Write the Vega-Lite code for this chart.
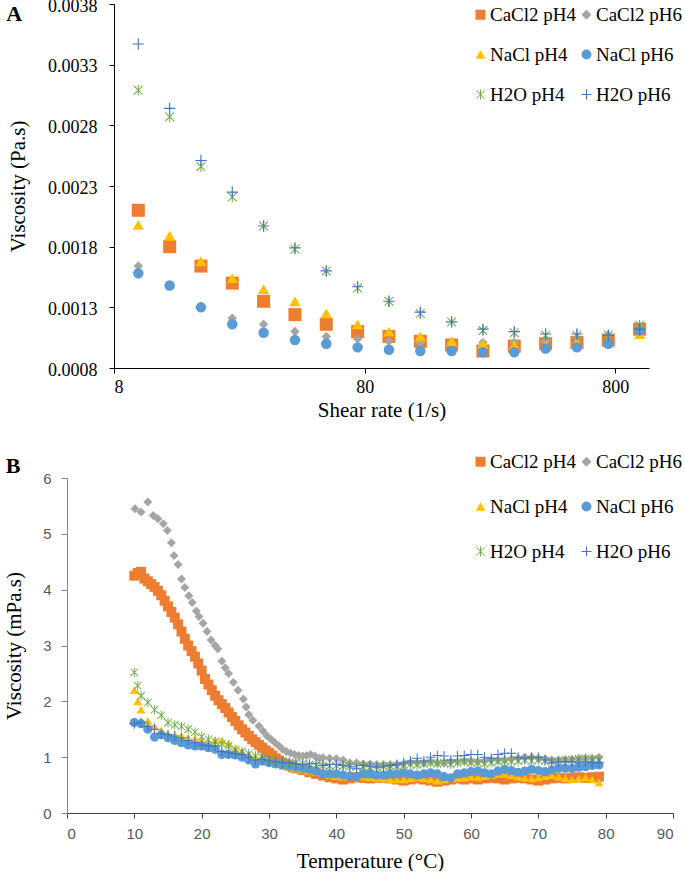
{
"$schema": "https://vega.github.io/schema/vega-lite/v6.json",
"padding": {"left": 3, "top": -3, "right": 0, "bottom": 0},
"config": {"view": {"stroke": null}, "axis": {"grid": false}},
"datasets": {
"a": [
{"s":"CaCl2 pH4","x":10,"v":0.00210},{"s":"CaCl2 pH4","x":13.34,"v":0.00180},{"s":"CaCl2 pH4","x":17.78,"v":0.00164},{"s":"CaCl2 pH4","x":23.71,"v":0.00150},{"s":"CaCl2 pH4","x":31.62,"v":0.00135},{"s":"CaCl2 pH4","x":42.17,"v":0.00124},{"s":"CaCl2 pH4","x":56.23,"v":0.00116},{"s":"CaCl2 pH4","x":74.99,"v":0.00110},{"s":"CaCl2 pH4","x":100,"v":0.00106},{"s":"CaCl2 pH4","x":133.4,"v":0.00102},{"s":"CaCl2 pH4","x":177.8,"v":0.00099},{"s":"CaCl2 pH4","x":237.1,"v":0.00094},{"s":"CaCl2 pH4","x":316.2,"v":0.00098},{"s":"CaCl2 pH4","x":421.7,"v":0.00100},{"s":"CaCl2 pH4","x":562.3,"v":0.00101},{"s":"CaCl2 pH4","x":749.9,"v":0.00103},{"s":"CaCl2 pH4","x":1000,"v":0.00112},
{"s":"CaCl2 pH6","x":10,"v":0.00164},{"s":"CaCl2 pH6","x":13.34,"v":0.00148},{"s":"CaCl2 pH6","x":17.78,"v":0.00131},{"s":"CaCl2 pH6","x":23.71,"v":0.00121},{"s":"CaCl2 pH6","x":31.62,"v":0.00116},{"s":"CaCl2 pH6","x":42.17,"v":0.00110},{"s":"CaCl2 pH6","x":56.23,"v":0.00106},{"s":"CaCl2 pH6","x":74.99,"v":0.00104},{"s":"CaCl2 pH6","x":100,"v":0.00102},{"s":"CaCl2 pH6","x":133.4,"v":0.00101},{"s":"CaCl2 pH6","x":177.8,"v":0.00101},{"s":"CaCl2 pH6","x":237.1,"v":0.00101},{"s":"CaCl2 pH6","x":316.2,"v":0.00101},{"s":"CaCl2 pH6","x":421.7,"v":0.00102},{"s":"CaCl2 pH6","x":562.3,"v":0.00105},{"s":"CaCl2 pH6","x":749.9,"v":0.00107},{"s":"CaCl2 pH6","x":1000,"v":0.00114},
{"s":"NaCl pH4","x":10,"v":0.00198},{"s":"NaCl pH4","x":13.34,"v":0.00189},{"s":"NaCl pH4","x":17.78,"v":0.00168},{"s":"NaCl pH4","x":23.71,"v":0.00154},{"s":"NaCl pH4","x":31.62,"v":0.00145},{"s":"NaCl pH4","x":42.17,"v":0.00135},{"s":"NaCl pH4","x":56.23,"v":0.00125},{"s":"NaCl pH4","x":74.99,"v":0.00116},{"s":"NaCl pH4","x":100,"v":0.00110},{"s":"NaCl pH4","x":133.4,"v":0.00106},{"s":"NaCl pH4","x":177.8,"v":0.00102},{"s":"NaCl pH4","x":237.1,"v":0.00100},{"s":"NaCl pH4","x":316.2,"v":0.00099},{"s":"NaCl pH4","x":421.7,"v":0.00099},{"s":"NaCl pH4","x":562.3,"v":0.00101},{"s":"NaCl pH4","x":749.9,"v":0.00101},{"s":"NaCl pH4","x":1000,"v":0.00108},
{"s":"NaCl pH6","x":10,"v":0.00158},{"s":"NaCl pH6","x":13.34,"v":0.00148},{"s":"NaCl pH6","x":17.78,"v":0.00130},{"s":"NaCl pH6","x":23.71,"v":0.00116},{"s":"NaCl pH6","x":31.62,"v":0.00109},{"s":"NaCl pH6","x":42.17,"v":0.00103},{"s":"NaCl pH6","x":56.23,"v":0.00100},{"s":"NaCl pH6","x":74.99,"v":0.00097},{"s":"NaCl pH6","x":100,"v":0.00095},{"s":"NaCl pH6","x":133.4,"v":0.00094},{"s":"NaCl pH6","x":177.8,"v":0.00094},{"s":"NaCl pH6","x":237.1,"v":0.00093},{"s":"NaCl pH6","x":316.2,"v":0.00093},{"s":"NaCl pH6","x":421.7,"v":0.00096},{"s":"NaCl pH6","x":562.3,"v":0.00097},{"s":"NaCl pH6","x":749.9,"v":0.00100},{"s":"NaCl pH6","x":1000,"v":0.00111},
{"s":"H2O pH4","x":10,"v":0.00309},{"s":"H2O pH4","x":13.34,"v":0.00287},{"s":"H2O pH4","x":17.78,"v":0.00246},{"s":"H2O pH4","x":23.71,"v":0.00221},{"s":"H2O pH4","x":31.62,"v":0.00197},{"s":"H2O pH4","x":42.17,"v":0.00178},{"s":"H2O pH4","x":56.23,"v":0.00160},{"s":"H2O pH4","x":74.99,"v":0.00146},{"s":"H2O pH4","x":100,"v":0.00135},{"s":"H2O pH4","x":133.4,"v":0.00125},{"s":"H2O pH4","x":177.8,"v":0.00118},{"s":"H2O pH4","x":237.1,"v":0.00111},{"s":"H2O pH4","x":316.2,"v":0.00109},{"s":"H2O pH4","x":421.7,"v":0.00107},{"s":"H2O pH4","x":562.3,"v":0.00107},{"s":"H2O pH4","x":749.9,"v":0.00107},{"s":"H2O pH4","x":1000,"v":0.00115},
{"s":"H2O pH6","x":10,"v":0.00347},{"s":"H2O pH6","x":13.34,"v":0.00294},{"s":"H2O pH6","x":17.78,"v":0.00251},{"s":"H2O pH6","x":23.71,"v":0.00225},{"s":"H2O pH6","x":31.62,"v":0.00197},{"s":"H2O pH6","x":42.17,"v":0.00179},{"s":"H2O pH6","x":56.23,"v":0.00160},{"s":"H2O pH6","x":74.99,"v":0.00147},{"s":"H2O pH6","x":100,"v":0.00135},{"s":"H2O pH6","x":133.4,"v":0.00126},{"s":"H2O pH6","x":177.8,"v":0.00118},{"s":"H2O pH6","x":237.1,"v":0.00112},{"s":"H2O pH6","x":316.2,"v":0.00110},{"s":"H2O pH6","x":421.7,"v":0.00108},{"s":"H2O pH6","x":562.3,"v":0.00108},{"s":"H2O pH6","x":749.9,"v":0.00107},{"s":"H2O pH6","x":1000,"v":0.00112}
],
"b": [
{"s":"CaCl2 pH4","t":10,"v":4.25},{"s":"CaCl2 pH4","t":10.5,"v":4.3},{"s":"CaCl2 pH4","t":11,"v":4.32},{"s":"CaCl2 pH4","t":11.5,"v":4.2},{"s":"CaCl2 pH4","t":12,"v":4.15},{"s":"CaCl2 pH4","t":12.5,"v":4.1},{"s":"CaCl2 pH4","t":13,"v":4.05},{"s":"CaCl2 pH4","t":13.5,"v":3.98},{"s":"CaCl2 pH4","t":14,"v":3.9},{"s":"CaCl2 pH4","t":14.5,"v":3.8},{"s":"CaCl2 pH4","t":15,"v":3.7},{"s":"CaCl2 pH4","t":15.5,"v":3.6},{"s":"CaCl2 pH4","t":16,"v":3.5},{"s":"CaCl2 pH4","t":16.5,"v":3.38},{"s":"CaCl2 pH4","t":17,"v":3.25},{"s":"CaCl2 pH4","t":17.5,"v":3.12},{"s":"CaCl2 pH4","t":18,"v":3.0},{"s":"CaCl2 pH4","t":18.5,"v":2.9},{"s":"CaCl2 pH4","t":19,"v":2.8},{"s":"CaCl2 pH4","t":19.5,"v":2.68},{"s":"CaCl2 pH4","t":20,"v":2.55},{"s":"CaCl2 pH4","t":20.5,"v":2.4},{"s":"CaCl2 pH4","t":21,"v":2.3},{"s":"CaCl2 pH4","t":21.5,"v":2.2},{"s":"CaCl2 pH4","t":22,"v":2.1},{"s":"CaCl2 pH4","t":22.5,"v":2.02},{"s":"CaCl2 pH4","t":23,"v":1.95},{"s":"CaCl2 pH4","t":23.5,"v":1.88},{"s":"CaCl2 pH4","t":24,"v":1.8},{"s":"CaCl2 pH4","t":24.5,"v":1.72},{"s":"CaCl2 pH4","t":25,"v":1.65},{"s":"CaCl2 pH4","t":25.5,"v":1.57},{"s":"CaCl2 pH4","t":26,"v":1.5},{"s":"CaCl2 pH4","t":26.5,"v":1.44},{"s":"CaCl2 pH4","t":27,"v":1.38},{"s":"CaCl2 pH4","t":27.5,"v":1.32},{"s":"CaCl2 pH4","t":28,"v":1.27},{"s":"CaCl2 pH4","t":28.5,"v":1.22},{"s":"CaCl2 pH4","t":29,"v":1.17},{"s":"CaCl2 pH4","t":29.5,"v":1.12},{"s":"CaCl2 pH4","t":30,"v":1.08},{"s":"CaCl2 pH4","t":30.5,"v":1.03},{"s":"CaCl2 pH4","t":31,"v":0.98},{"s":"CaCl2 pH4","t":31.5,"v":0.94},{"s":"CaCl2 pH4","t":32,"v":0.9},{"s":"CaCl2 pH4","t":32.5,"v":0.87},{"s":"CaCl2 pH4","t":33,"v":0.85},{"s":"CaCl2 pH4","t":33.5,"v":0.82},{"s":"CaCl2 pH4","t":34,"v":0.8},{"s":"CaCl2 pH4","t":35,"v":0.77},{"s":"CaCl2 pH4","t":36,"v":0.73},{"s":"CaCl2 pH4","t":37,"v":0.7},{"s":"CaCl2 pH4","t":38,"v":0.67},{"s":"CaCl2 pH4","t":39,"v":0.64},{"s":"CaCl2 pH4","t":40,"v":0.62},{"s":"CaCl2 pH4","t":41,"v":0.6},{"s":"CaCl2 pH4","t":42,"v":0.62},{"s":"CaCl2 pH4","t":43,"v":0.64},{"s":"CaCl2 pH4","t":44,"v":0.63},{"s":"CaCl2 pH4","t":45,"v":0.62},{"s":"CaCl2 pH4","t":46,"v":0.63},{"s":"CaCl2 pH4","t":47,"v":0.63},{"s":"CaCl2 pH4","t":48,"v":0.62},{"s":"CaCl2 pH4","t":49,"v":0.6},{"s":"CaCl2 pH4","t":50,"v":0.58},{"s":"CaCl2 pH4","t":51,"v":0.6},{"s":"CaCl2 pH4","t":52,"v":0.62},{"s":"CaCl2 pH4","t":53,"v":0.6},{"s":"CaCl2 pH4","t":54,"v":0.58},{"s":"CaCl2 pH4","t":55,"v":0.56},{"s":"CaCl2 pH4","t":56,"v":0.58},{"s":"CaCl2 pH4","t":57,"v":0.6},{"s":"CaCl2 pH4","t":58,"v":0.62},{"s":"CaCl2 pH4","t":59,"v":0.6},{"s":"CaCl2 pH4","t":60,"v":0.62},{"s":"CaCl2 pH4","t":61,"v":0.6},{"s":"CaCl2 pH4","t":62,"v":0.62},{"s":"CaCl2 pH4","t":63,"v":0.63},{"s":"CaCl2 pH4","t":64,"v":0.62},{"s":"CaCl2 pH4","t":65,"v":0.6},{"s":"CaCl2 pH4","t":66,"v":0.62},{"s":"CaCl2 pH4","t":67,"v":0.63},{"s":"CaCl2 pH4","t":68,"v":0.62},{"s":"CaCl2 pH4","t":69,"v":0.6},{"s":"CaCl2 pH4","t":70,"v":0.58},{"s":"CaCl2 pH4","t":71,"v":0.6},{"s":"CaCl2 pH4","t":72,"v":0.62},{"s":"CaCl2 pH4","t":73,"v":0.63},{"s":"CaCl2 pH4","t":74,"v":0.62},{"s":"CaCl2 pH4","t":75,"v":0.63},{"s":"CaCl2 pH4","t":76,"v":0.64},{"s":"CaCl2 pH4","t":77,"v":0.63},{"s":"CaCl2 pH4","t":78,"v":0.64},{"s":"CaCl2 pH4","t":79,"v":0.65},
{"s":"CaCl2 pH6","t":10.1,"v":5.45},{"s":"CaCl2 pH6","t":11,"v":5.39},{"s":"CaCl2 pH6","t":12,"v":5.57},{"s":"CaCl2 pH6","t":12.8,"v":5.33},{"s":"CaCl2 pH6","t":13.5,"v":5.27},{"s":"CaCl2 pH6","t":14.3,"v":5.18},{"s":"CaCl2 pH6","t":14.9,"v":5.06},{"s":"CaCl2 pH6","t":15.5,"v":4.84},{"s":"CaCl2 pH6","t":15.9,"v":4.61},{"s":"CaCl2 pH6","t":16.5,"v":4.45},{"s":"CaCl2 pH6","t":17,"v":4.19},{"s":"CaCl2 pH6","t":17.5,"v":4.04},{"s":"CaCl2 pH6","t":18.1,"v":3.89},{"s":"CaCl2 pH6","t":18.6,"v":3.77},{"s":"CaCl2 pH6","t":19.2,"v":3.62},{"s":"CaCl2 pH6","t":19.6,"v":3.52},{"s":"CaCl2 pH6","t":20.2,"v":3.4},{"s":"CaCl2 pH6","t":20.8,"v":3.25},{"s":"CaCl2 pH6","t":21.4,"v":3.1},{"s":"CaCl2 pH6","t":22,"v":3.0},{"s":"CaCl2 pH6","t":22.4,"v":2.94},{"s":"CaCl2 pH6","t":23,"v":2.72},{"s":"CaCl2 pH6","t":23.5,"v":2.6},{"s":"CaCl2 pH6","t":24,"v":2.5},{"s":"CaCl2 pH6","t":24.7,"v":2.34},{"s":"CaCl2 pH6","t":25.4,"v":2.2},{"s":"CaCl2 pH6","t":26.2,"v":2.04},{"s":"CaCl2 pH6","t":26.6,"v":1.9},{"s":"CaCl2 pH6","t":27,"v":1.76},{"s":"CaCl2 pH6","t":27.6,"v":1.66},{"s":"CaCl2 pH6","t":28.5,"v":1.56},{"s":"CaCl2 pH6","t":29.1,"v":1.47},{"s":"CaCl2 pH6","t":29.7,"v":1.38},{"s":"CaCl2 pH6","t":30.3,"v":1.32},{"s":"CaCl2 pH6","t":30.9,"v":1.26},{"s":"CaCl2 pH6","t":31.5,"v":1.2},{"s":"CaCl2 pH6","t":32,"v":1.14},{"s":"CaCl2 pH6","t":32.6,"v":1.1},{"s":"CaCl2 pH6","t":33.2,"v":1.07},{"s":"CaCl2 pH6","t":33.8,"v":1.05},{"s":"CaCl2 pH6","t":34.4,"v":1.03},{"s":"CaCl2 pH6","t":35,"v":1.02},{"s":"CaCl2 pH6","t":35.6,"v":1.03},{"s":"CaCl2 pH6","t":36.2,"v":1.05},{"s":"CaCl2 pH6","t":36.8,"v":1.02},{"s":"CaCl2 pH6","t":37.5,"v":0.98},{"s":"CaCl2 pH6","t":38,"v":0.99},{"s":"CaCl2 pH6","t":39,"v":0.98},{"s":"CaCl2 pH6","t":40,"v":0.97},{"s":"CaCl2 pH6","t":41,"v":0.95},{"s":"CaCl2 pH6","t":42,"v":0.9},{"s":"CaCl2 pH6","t":43,"v":0.9},{"s":"CaCl2 pH6","t":44,"v":0.88},{"s":"CaCl2 pH6","t":45,"v":0.88},{"s":"CaCl2 pH6","t":46,"v":0.87},{"s":"CaCl2 pH6","t":47,"v":0.87},{"s":"CaCl2 pH6","t":48,"v":0.86},{"s":"CaCl2 pH6","t":49,"v":0.87},{"s":"CaCl2 pH6","t":50,"v":0.88},{"s":"CaCl2 pH6","t":51,"v":0.9},{"s":"CaCl2 pH6","t":52,"v":0.9},{"s":"CaCl2 pH6","t":53,"v":0.9},{"s":"CaCl2 pH6","t":54,"v":0.92},{"s":"CaCl2 pH6","t":55,"v":0.9},{"s":"CaCl2 pH6","t":56,"v":0.9},{"s":"CaCl2 pH6","t":57,"v":0.92},{"s":"CaCl2 pH6","t":58,"v":0.92},{"s":"CaCl2 pH6","t":59,"v":0.93},{"s":"CaCl2 pH6","t":60,"v":0.93},{"s":"CaCl2 pH6","t":61,"v":0.92},{"s":"CaCl2 pH6","t":62,"v":0.93},{"s":"CaCl2 pH6","t":63,"v":0.95},{"s":"CaCl2 pH6","t":64,"v":0.95},{"s":"CaCl2 pH6","t":65,"v":0.95},{"s":"CaCl2 pH6","t":66,"v":0.97},{"s":"CaCl2 pH6","t":67,"v":0.98},{"s":"CaCl2 pH6","t":68,"v":1.0},{"s":"CaCl2 pH6","t":69,"v":1.0},{"s":"CaCl2 pH6","t":70,"v":0.98},{"s":"CaCl2 pH6","t":71,"v":0.97},{"s":"CaCl2 pH6","t":72,"v":0.95},{"s":"CaCl2 pH6","t":73,"v":0.95},{"s":"CaCl2 pH6","t":74,"v":0.95},{"s":"CaCl2 pH6","t":75,"v":0.96},{"s":"CaCl2 pH6","t":76,"v":0.97},{"s":"CaCl2 pH6","t":77,"v":0.98},{"s":"CaCl2 pH6","t":78,"v":0.98},{"s":"CaCl2 pH6","t":79,"v":1.0},
{"s":"NaCl pH4","t":10,"v":2.2},{"s":"NaCl pH4","t":10.5,"v":2.0},{"s":"NaCl pH4","t":11,"v":1.85},{"s":"NaCl pH4","t":12,"v":1.65},{"s":"NaCl pH4","t":13,"v":1.55},{"s":"NaCl pH4","t":14,"v":1.48},{"s":"NaCl pH4","t":15,"v":1.42},{"s":"NaCl pH4","t":16,"v":1.4},{"s":"NaCl pH4","t":17,"v":1.38},{"s":"NaCl pH4","t":18,"v":1.35},{"s":"NaCl pH4","t":19,"v":1.33},{"s":"NaCl pH4","t":20,"v":1.3},{"s":"NaCl pH4","t":21,"v":1.28},{"s":"NaCl pH4","t":22,"v":1.3},{"s":"NaCl pH4","t":23,"v":1.3},{"s":"NaCl pH4","t":24,"v":1.25},{"s":"NaCl pH4","t":25,"v":1.15},{"s":"NaCl pH4","t":26,"v":1.1},{"s":"NaCl pH4","t":27,"v":1.05},{"s":"NaCl pH4","t":28,"v":0.98},{"s":"NaCl pH4","t":29,"v":0.95},{"s":"NaCl pH4","t":30,"v":0.92},{"s":"NaCl pH4","t":31,"v":0.88},{"s":"NaCl pH4","t":32,"v":0.85},{"s":"NaCl pH4","t":33,"v":0.82},{"s":"NaCl pH4","t":34,"v":0.8},{"s":"NaCl pH4","t":35,"v":0.78},{"s":"NaCl pH4","t":36,"v":0.76},{"s":"NaCl pH4","t":37,"v":0.73},{"s":"NaCl pH4","t":38,"v":0.7},{"s":"NaCl pH4","t":39,"v":0.68},{"s":"NaCl pH4","t":40,"v":0.66},{"s":"NaCl pH4","t":41,"v":0.65},{"s":"NaCl pH4","t":42,"v":0.66},{"s":"NaCl pH4","t":43,"v":0.66},{"s":"NaCl pH4","t":44,"v":0.65},{"s":"NaCl pH4","t":45,"v":0.64},{"s":"NaCl pH4","t":46,"v":0.63},{"s":"NaCl pH4","t":47,"v":0.62},{"s":"NaCl pH4","t":48,"v":0.6},{"s":"NaCl pH4","t":49,"v":0.6},{"s":"NaCl pH4","t":50,"v":0.6},{"s":"NaCl pH4","t":51,"v":0.62},{"s":"NaCl pH4","t":52,"v":0.64},{"s":"NaCl pH4","t":53,"v":0.62},{"s":"NaCl pH4","t":54,"v":0.6},{"s":"NaCl pH4","t":55,"v":0.58},{"s":"NaCl pH4","t":56,"v":0.6},{"s":"NaCl pH4","t":57,"v":0.62},{"s":"NaCl pH4","t":58,"v":0.63},{"s":"NaCl pH4","t":59,"v":0.63},{"s":"NaCl pH4","t":60,"v":0.65},{"s":"NaCl pH4","t":61,"v":0.64},{"s":"NaCl pH4","t":62,"v":0.66},{"s":"NaCl pH4","t":63,"v":0.68},{"s":"NaCl pH4","t":64,"v":0.7},{"s":"NaCl pH4","t":65,"v":0.7},{"s":"NaCl pH4","t":66,"v":0.68},{"s":"NaCl pH4","t":67,"v":0.65},{"s":"NaCl pH4","t":68,"v":0.63},{"s":"NaCl pH4","t":69,"v":0.62},{"s":"NaCl pH4","t":70,"v":0.64},{"s":"NaCl pH4","t":71,"v":0.66},{"s":"NaCl pH4","t":72,"v":0.68},{"s":"NaCl pH4","t":73,"v":0.65},{"s":"NaCl pH4","t":74,"v":0.62},{"s":"NaCl pH4","t":75,"v":0.6},{"s":"NaCl pH4","t":76,"v":0.62},{"s":"NaCl pH4","t":77,"v":0.64},{"s":"NaCl pH4","t":78,"v":0.6},{"s":"NaCl pH4","t":79,"v":0.55},
{"s":"NaCl pH6","t":10,"v":1.62},{"s":"NaCl pH6","t":11,"v":1.6},{"s":"NaCl pH6","t":12,"v":1.5},{"s":"NaCl pH6","t":13,"v":1.36},{"s":"NaCl pH6","t":14,"v":1.4},{"s":"NaCl pH6","t":15,"v":1.35},{"s":"NaCl pH6","t":16,"v":1.3},{"s":"NaCl pH6","t":17,"v":1.26},{"s":"NaCl pH6","t":18,"v":1.22},{"s":"NaCl pH6","t":19,"v":1.2},{"s":"NaCl pH6","t":20,"v":1.2},{"s":"NaCl pH6","t":21,"v":1.17},{"s":"NaCl pH6","t":22,"v":1.14},{"s":"NaCl pH6","t":23,"v":1.05},{"s":"NaCl pH6","t":24,"v":1.05},{"s":"NaCl pH6","t":25,"v":1.04},{"s":"NaCl pH6","t":26,"v":1.0},{"s":"NaCl pH6","t":27,"v":0.95},{"s":"NaCl pH6","t":28,"v":0.88},{"s":"NaCl pH6","t":29,"v":0.93},{"s":"NaCl pH6","t":30,"v":0.9},{"s":"NaCl pH6","t":31,"v":0.88},{"s":"NaCl pH6","t":32,"v":0.86},{"s":"NaCl pH6","t":33,"v":0.84},{"s":"NaCl pH6","t":34,"v":0.82},{"s":"NaCl pH6","t":35,"v":0.8},{"s":"NaCl pH6","t":36,"v":0.78},{"s":"NaCl pH6","t":37,"v":0.75},{"s":"NaCl pH6","t":38,"v":0.7},{"s":"NaCl pH6","t":39,"v":0.7},{"s":"NaCl pH6","t":40,"v":0.7},{"s":"NaCl pH6","t":41,"v":0.68},{"s":"NaCl pH6","t":42,"v":0.66},{"s":"NaCl pH6","t":43,"v":0.65},{"s":"NaCl pH6","t":44,"v":0.7},{"s":"NaCl pH6","t":45,"v":0.7},{"s":"NaCl pH6","t":46,"v":0.68},{"s":"NaCl pH6","t":47,"v":0.68},{"s":"NaCl pH6","t":48,"v":0.7},{"s":"NaCl pH6","t":49,"v":0.7},{"s":"NaCl pH6","t":50,"v":0.72},{"s":"NaCl pH6","t":51,"v":0.7},{"s":"NaCl pH6","t":52,"v":0.68},{"s":"NaCl pH6","t":53,"v":0.7},{"s":"NaCl pH6","t":54,"v":0.72},{"s":"NaCl pH6","t":55,"v":0.7},{"s":"NaCl pH6","t":56,"v":0.65},{"s":"NaCl pH6","t":57,"v":0.63},{"s":"NaCl pH6","t":58,"v":0.7},{"s":"NaCl pH6","t":59,"v":0.72},{"s":"NaCl pH6","t":60,"v":0.74},{"s":"NaCl pH6","t":61,"v":0.75},{"s":"NaCl pH6","t":62,"v":0.72},{"s":"NaCl pH6","t":63,"v":0.7},{"s":"NaCl pH6","t":64,"v":0.75},{"s":"NaCl pH6","t":65,"v":0.78},{"s":"NaCl pH6","t":66,"v":0.76},{"s":"NaCl pH6","t":67,"v":0.73},{"s":"NaCl pH6","t":68,"v":0.75},{"s":"NaCl pH6","t":69,"v":0.78},{"s":"NaCl pH6","t":70,"v":0.76},{"s":"NaCl pH6","t":71,"v":0.74},{"s":"NaCl pH6","t":72,"v":0.77},{"s":"NaCl pH6","t":73,"v":0.8},{"s":"NaCl pH6","t":74,"v":0.8},{"s":"NaCl pH6","t":75,"v":0.8},{"s":"NaCl pH6","t":76,"v":0.82},{"s":"NaCl pH6","t":77,"v":0.83},{"s":"NaCl pH6","t":78,"v":0.85},{"s":"NaCl pH6","t":79,"v":0.86},
{"s":"H2O pH4","t":10,"v":2.52},{"s":"H2O pH4","t":10.5,"v":2.28},{"s":"H2O pH4","t":11,"v":2.1},{"s":"H2O pH4","t":12,"v":1.98},{"s":"H2O pH4","t":13,"v":1.85},{"s":"H2O pH4","t":14,"v":1.75},{"s":"H2O pH4","t":15,"v":1.62},{"s":"H2O pH4","t":16,"v":1.58},{"s":"H2O pH4","t":17,"v":1.55},{"s":"H2O pH4","t":18,"v":1.5},{"s":"H2O pH4","t":19,"v":1.45},{"s":"H2O pH4","t":20,"v":1.37},{"s":"H2O pH4","t":21,"v":1.32},{"s":"H2O pH4","t":22,"v":1.28},{"s":"H2O pH4","t":23,"v":1.24},{"s":"H2O pH4","t":24,"v":1.2},{"s":"H2O pH4","t":25,"v":1.13},{"s":"H2O pH4","t":26,"v":1.1},{"s":"H2O pH4","t":27,"v":1.06},{"s":"H2O pH4","t":28,"v":1.02},{"s":"H2O pH4","t":29,"v":0.99},{"s":"H2O pH4","t":30,"v":0.96},{"s":"H2O pH4","t":31,"v":0.94},{"s":"H2O pH4","t":32,"v":0.92},{"s":"H2O pH4","t":33,"v":0.9},{"s":"H2O pH4","t":34,"v":0.9},{"s":"H2O pH4","t":35,"v":0.88},{"s":"H2O pH4","t":36,"v":0.87},{"s":"H2O pH4","t":37,"v":0.86},{"s":"H2O pH4","t":38,"v":0.85},{"s":"H2O pH4","t":39,"v":0.84},{"s":"H2O pH4","t":40,"v":0.85},{"s":"H2O pH4","t":41,"v":0.84},{"s":"H2O pH4","t":42,"v":0.83},{"s":"H2O pH4","t":43,"v":0.82},{"s":"H2O pH4","t":44,"v":0.83},{"s":"H2O pH4","t":45,"v":0.82},{"s":"H2O pH4","t":46,"v":0.82},{"s":"H2O pH4","t":47,"v":0.83},{"s":"H2O pH4","t":48,"v":0.84},{"s":"H2O pH4","t":49,"v":0.84},{"s":"H2O pH4","t":50,"v":0.85},{"s":"H2O pH4","t":51,"v":0.87},{"s":"H2O pH4","t":52,"v":0.86},{"s":"H2O pH4","t":53,"v":0.88},{"s":"H2O pH4","t":54,"v":0.9},{"s":"H2O pH4","t":55,"v":0.88},{"s":"H2O pH4","t":56,"v":0.9},{"s":"H2O pH4","t":57,"v":0.87},{"s":"H2O pH4","t":58,"v":0.9},{"s":"H2O pH4","t":59,"v":0.92},{"s":"H2O pH4","t":60,"v":0.9},{"s":"H2O pH4","t":61,"v":0.9},{"s":"H2O pH4","t":62,"v":0.88},{"s":"H2O pH4","t":63,"v":0.9},{"s":"H2O pH4","t":64,"v":0.92},{"s":"H2O pH4","t":65,"v":0.93},{"s":"H2O pH4","t":66,"v":0.92},{"s":"H2O pH4","t":67,"v":0.93},{"s":"H2O pH4","t":68,"v":0.95},{"s":"H2O pH4","t":69,"v":0.93},{"s":"H2O pH4","t":70,"v":0.95},{"s":"H2O pH4","t":71,"v":0.93},{"s":"H2O pH4","t":72,"v":0.92},{"s":"H2O pH4","t":73,"v":0.93},{"s":"H2O pH4","t":74,"v":0.95},{"s":"H2O pH4","t":75,"v":0.95},{"s":"H2O pH4","t":76,"v":0.97},{"s":"H2O pH4","t":77,"v":0.98},{"s":"H2O pH4","t":78,"v":0.96},{"s":"H2O pH4","t":79,"v":0.95},
{"s":"H2O pH6","t":10,"v":1.6},{"s":"H2O pH6","t":11,"v":1.62},{"s":"H2O pH6","t":12,"v":1.55},{"s":"H2O pH6","t":13,"v":1.5},{"s":"H2O pH6","t":14,"v":1.42},{"s":"H2O pH6","t":15,"v":1.4},{"s":"H2O pH6","t":16,"v":1.38},{"s":"H2O pH6","t":17,"v":1.35},{"s":"H2O pH6","t":18,"v":1.3},{"s":"H2O pH6","t":19,"v":1.26},{"s":"H2O pH6","t":20,"v":1.22},{"s":"H2O pH6","t":21,"v":1.2},{"s":"H2O pH6","t":22,"v":1.2},{"s":"H2O pH6","t":23,"v":1.1},{"s":"H2O pH6","t":24,"v":1.08},{"s":"H2O pH6","t":25,"v":1.06},{"s":"H2O pH6","t":26,"v":1.05},{"s":"H2O pH6","t":27,"v":1.0},{"s":"H2O pH6","t":28,"v":0.95},{"s":"H2O pH6","t":29,"v":0.96},{"s":"H2O pH6","t":30,"v":0.93},{"s":"H2O pH6","t":31,"v":0.92},{"s":"H2O pH6","t":32,"v":0.9},{"s":"H2O pH6","t":33,"v":0.9},{"s":"H2O pH6","t":34,"v":0.88},{"s":"H2O pH6","t":35,"v":0.87},{"s":"H2O pH6","t":36,"v":0.88},{"s":"H2O pH6","t":37,"v":0.88},{"s":"H2O pH6","t":38,"v":0.85},{"s":"H2O pH6","t":39,"v":0.87},{"s":"H2O pH6","t":40,"v":0.87},{"s":"H2O pH6","t":41,"v":0.85},{"s":"H2O pH6","t":42,"v":0.83},{"s":"H2O pH6","t":43,"v":0.8},{"s":"H2O pH6","t":44,"v":0.85},{"s":"H2O pH6","t":45,"v":0.83},{"s":"H2O pH6","t":46,"v":0.82},{"s":"H2O pH6","t":47,"v":0.83},{"s":"H2O pH6","t":48,"v":0.85},{"s":"H2O pH6","t":49,"v":0.87},{"s":"H2O pH6","t":50,"v":0.9},{"s":"H2O pH6","t":51,"v":0.93},{"s":"H2O pH6","t":52,"v":0.98},{"s":"H2O pH6","t":53,"v":0.93},{"s":"H2O pH6","t":54,"v":1.0},{"s":"H2O pH6","t":55,"v":1.03},{"s":"H2O pH6","t":56,"v":1.02},{"s":"H2O pH6","t":57,"v":0.95},{"s":"H2O pH6","t":58,"v":1.02},{"s":"H2O pH6","t":59,"v":1.03},{"s":"H2O pH6","t":60,"v":1.05},{"s":"H2O pH6","t":61,"v":1.05},{"s":"H2O pH6","t":62,"v":1.0},{"s":"H2O pH6","t":63,"v":0.98},{"s":"H2O pH6","t":64,"v":1.05},{"s":"H2O pH6","t":65,"v":1.07},{"s":"H2O pH6","t":66,"v":1.07},{"s":"H2O pH6","t":67,"v":1.0},{"s":"H2O pH6","t":68,"v":0.97},{"s":"H2O pH6","t":69,"v":1.0},{"s":"H2O pH6","t":70,"v":1.0},{"s":"H2O pH6","t":71,"v":0.95},{"s":"H2O pH6","t":72,"v":0.9},{"s":"H2O pH6","t":73,"v":0.92},{"s":"H2O pH6","t":74,"v":0.92},{"s":"H2O pH6","t":75,"v":0.92},{"s":"H2O pH6","t":76,"v":0.9},{"s":"H2O pH6","t":77,"v":0.92},{"s":"H2O pH6","t":78,"v":0.9},{"s":"H2O pH6","t":79,"v":0.9}
]
},
"spacing": 32,
"resolve": {"scale": {"color": "independent", "shape": "independent"}, "legend": {"color": "independent", "shape": "independent"}},
"vconcat": [
{
"width": 582, "height": 364,
"layer": [
{
"data": {"name": "a"},
"encoding": {
"x": {"field": "x", "type": "quantitative", "scale": {"type": "log", "domain": [8, 1090], "nice": false, "range": [47, 582]}, "axis": {"values": [8, 80, 800], "format": "d", "title": "Shear rate (1/s)", "domainColor": "#000000", "tickColor": "#000000", "tickSize": 5, "labelPadding": 5, "labelFont": "Liberation Serif", "labelFontSize": 18, "labelColor": "#000000", "titleFont": "Liberation Serif", "titleFontSize": 21, "titleFontWeight": "normal", "titleColor": "#000000", "titlePadding": 3}},
"y": {"field": "v", "type": "quantitative", "scale": {"domain": [0.0008, 0.0038], "nice": false, "zero": false}, "axis": {"offset": -47, "values": [0.0008, 0.0013, 0.0018, 0.0023, 0.0028, 0.0033, 0.0038], "format": ".4f", "title": "Viscosity (Pa.s)", "domainColor": "#000000", "tickColor": "#000000", "tickSize": 5, "labelPadding": 12, "labelOffset": 2, "labelFont": "Liberation Serif", "labelFontSize": 18, "labelColor": "#000000", "titleFont": "Liberation Serif", "titleFontSize": 21, "titleFontWeight": "normal", "titleColor": "#000000", "titlePadding": 19}},
"color": {"field": "s", "type": "nominal", "scale": {"domain": ["CaCl2 pH4", "NaCl pH4", "H2O pH4", "CaCl2 pH6", "NaCl pH6", "H2O pH6"], "range": ["#ED7D31", "#FFC000", "#70AD47", "#A5A5A5", "#5B9BD5", "#4472C4"]}, "legend": {"title": null, "orient": "none", "legendX": 404, "legendY": 1, "columns": 2, "labelFont": "Liberation Serif", "labelFontSize": 19, "labelColor": "#000000", "symbolSize": 100, "rowPadding": 20, "columnPadding": 0, "labelOffset": 0}},
"shape": {"field": "s", "type": "nominal", "scale": {"domain": ["CaCl2 pH4", "NaCl pH4", "H2O pH4", "CaCl2 pH6", "NaCl pH6", "H2O pH6"], "range": ["square", "triangle-up", "M-0.1,-1L0.1,-1L0.1,1L-0.1,1ZM-0.73,-0.87L0.87,0.73L0.73,0.87L-0.87,-0.73ZM-0.87,0.73L0.73,-0.87L0.87,-0.73L-0.73,0.87Z", "diamond", "circle", "M-1,-0.1L1,-0.1L1,0.1L-1,0.1ZM-0.1,-1L0.1,-1L0.1,1L-0.1,1Z"]}, "legend": {"title": null, "orient": "none", "legendX": 404, "legendY": 1, "columns": 2, "labelFont": "Liberation Serif", "labelFontSize": 19, "labelColor": "#000000", "symbolSize": 100, "rowPadding": 20, "columnPadding": 0, "labelOffset": 0}}
},
"layer": [
{"transform": [{"filter": "datum.s == 'CaCl2 pH4'"}], "mark": {"type": "point", "filled": true, "opacity": 1, "size": 170}},
{"transform": [{"filter": "datum.s == 'CaCl2 pH6'"}], "mark": {"type": "point", "filled": true, "opacity": 1, "size": 90}},
{"transform": [{"filter": "datum.s == 'NaCl pH4'"}], "mark": {"type": "point", "filled": true, "opacity": 1, "size": 130}},
{"transform": [{"filter": "datum.s == 'NaCl pH6'"}], "mark": {"type": "point", "filled": true, "opacity": 1, "size": 110}},
{"transform": [{"filter": "datum.s == 'H2O pH4'"}], "mark": {"type": "point", "filled": true, "opacity": 1, "size": 120}},
{"transform": [{"filter": "datum.s == 'H2O pH6'"}], "mark": {"type": "point", "filled": true, "opacity": 1, "size": 130}}
]
},
{
"data": {"values": [{"p": "A"}]},
"mark": {"type": "text", "font": "Liberation Serif", "fontSize": 22, "fontWeight": "bold", "align": "center", "baseline": "middle", "color": "#000000"},
"encoding": {
"x": {"datum": 3.2, "type": "quantitative", "scale": {"type": "log", "domain": [8, 1090], "nice": false, "range": [47, 582]}, "axis": {"values": [8, 80, 800], "format": "d", "title": "Shear rate (1/s)", "domainColor": "#000000", "tickColor": "#000000", "tickSize": 5, "labelPadding": 5, "labelFont": "Liberation Serif", "labelFontSize": 18, "labelColor": "#000000", "titleFont": "Liberation Serif", "titleFontSize": 21, "titleFontWeight": "normal", "titleColor": "#000000", "titlePadding": 3}},
"y": {"datum": 0.00372, "type": "quantitative", "scale": {"domain": [0.0008, 0.0038], "nice": false, "zero": false}, "axis": {"offset": -47, "values": [0.0008, 0.0013, 0.0018, 0.0023, 0.0028, 0.0033, 0.0038], "format": ".4f", "title": "Viscosity (Pa.s)", "domainColor": "#000000", "tickColor": "#000000", "tickSize": 5, "labelPadding": 12, "labelOffset": 2, "labelFont": "Liberation Serif", "labelFontSize": 18, "labelColor": "#000000", "titleFont": "Liberation Serif", "titleFontSize": 21, "titleFontWeight": "normal", "titleColor": "#000000", "titlePadding": 19}},
"text": {"field": "p"}
}
}
]
},
{
"width": 606, "height": 335,
"layer": [
{
"data": {"name": "b"},
"encoding": {
"x": {"field": "t", "type": "quantitative", "scale": {"domain": [0, 90], "nice": false}, "axis": {"values": [0, 10, 20, 30, 40, 50, 60, 70, 80, 90], "title": "Temperature (°C)", "domainColor": "#404040", "tickColor": "#404040", "tickSize": 5, "labelPadding": 8, "labelFont": "Liberation Sans", "labelFontSize": 15, "labelColor": "#595959", "titleFont": "Liberation Serif", "titleFontSize": 21, "titleFontWeight": "normal", "titleColor": "#000000", "titlePadding": 9}},
"y": {"field": "v", "type": "quantitative", "scale": {"domain": [0, 6], "nice": false}, "axis": {"values": [0, 1, 2, 3, 4, 5, 6], "title": "Viscosity (mPa.s)", "domainColor": "#868686", "tickColor": "#868686", "tickSize": 6, "labelPadding": 10, "labelFont": "Liberation Sans", "labelFontSize": 15, "labelColor": "#595959", "titleFont": "Liberation Serif", "titleFontSize": 21, "titleFontWeight": "normal", "titleColor": "#000000", "titlePadding": 18}},
"color": {"field": "s", "type": "nominal", "scale": {"domain": ["CaCl2 pH4", "NaCl pH4", "H2O pH4", "CaCl2 pH6", "NaCl pH6", "H2O pH6"], "range": ["#ED7D31", "#FFC000", "#70AD47", "#A5A5A5", "#5B9BD5", "#4472C4"]}, "legend": {"title": null, "orient": "none", "legendX": 404, "legendY": -26, "columns": 2, "labelFont": "Liberation Serif", "labelFontSize": 19, "labelColor": "#000000", "symbolSize": 100, "rowPadding": 25, "columnPadding": 0, "labelOffset": 0}},
"shape": {"field": "s", "type": "nominal", "scale": {"domain": ["CaCl2 pH4", "NaCl pH4", "H2O pH4", "CaCl2 pH6", "NaCl pH6", "H2O pH6"], "range": ["square", "triangle-up", "M-0.1,-1L0.1,-1L0.1,1L-0.1,1ZM-0.73,-0.87L0.87,0.73L0.73,0.87L-0.87,-0.73ZM-0.87,0.73L0.73,-0.87L0.87,-0.73L-0.73,0.87Z", "diamond", "circle", "M-1,-0.1L1,-0.1L1,0.1L-1,0.1ZM-0.1,-1L0.1,-1L0.1,1L-0.1,1Z"]}, "legend": {"title": null, "orient": "none", "legendX": 404, "legendY": -26, "columns": 2, "labelFont": "Liberation Serif", "labelFontSize": 19, "labelColor": "#000000", "symbolSize": 100, "rowPadding": 25, "columnPadding": 0, "labelOffset": 0}}
},
"layer": [
{"transform": [{"filter": "datum.s == 'CaCl2 pH4'"}], "mark": {"type": "point", "filled": true, "opacity": 1, "size": 100}},
{"transform": [{"filter": "datum.s == 'CaCl2 pH6'"}], "mark": {"type": "point", "filled": true, "opacity": 1, "size": 80}},
{"transform": [{"filter": "datum.s == 'NaCl pH4'"}], "mark": {"type": "point", "filled": true, "opacity": 1, "size": 80}},
{"transform": [{"filter": "datum.s == 'NaCl pH6'"}], "mark": {"type": "point", "filled": true, "opacity": 1, "size": 85}},
{"transform": [{"filter": "datum.s == 'H2O pH4'"}], "mark": {"type": "point", "filled": true, "opacity": 1, "size": 90}},
{"transform": [{"filter": "datum.s == 'H2O pH6'"}], "mark": {"type": "point", "filled": true, "opacity": 1, "size": 100}}
]
},
{
"data": {"values": [{"p": "B"}]},
"mark": {"type": "text", "font": "Liberation Serif", "fontSize": 22, "fontWeight": "bold", "align": "center", "baseline": "middle", "color": "#000000"},
"encoding": {
"x": {"datum": -8, "type": "quantitative", "scale": {"domain": [0, 90], "nice": false}, "axis": {"values": [0, 10, 20, 30, 40, 50, 60, 70, 80, 90], "title": "Temperature (°C)", "domainColor": "#404040", "tickColor": "#404040", "tickSize": 5, "labelPadding": 8, "labelFont": "Liberation Sans", "labelFontSize": 15, "labelColor": "#595959", "titleFont": "Liberation Serif", "titleFontSize": 21, "titleFontWeight": "normal", "titleColor": "#000000", "titlePadding": 9}},
"y": {"datum": 6.215, "type": "quantitative", "scale": {"domain": [0, 6], "nice": false}, "axis": {"values": [0, 1, 2, 3, 4, 5, 6], "title": "Viscosity (mPa.s)", "domainColor": "#868686", "tickColor": "#868686", "tickSize": 6, "labelPadding": 10, "labelFont": "Liberation Sans", "labelFontSize": 15, "labelColor": "#595959", "titleFont": "Liberation Serif", "titleFontSize": 21, "titleFontWeight": "normal", "titleColor": "#000000", "titlePadding": 18}},
"text": {"field": "p"}
}
}
]
}
]
}
